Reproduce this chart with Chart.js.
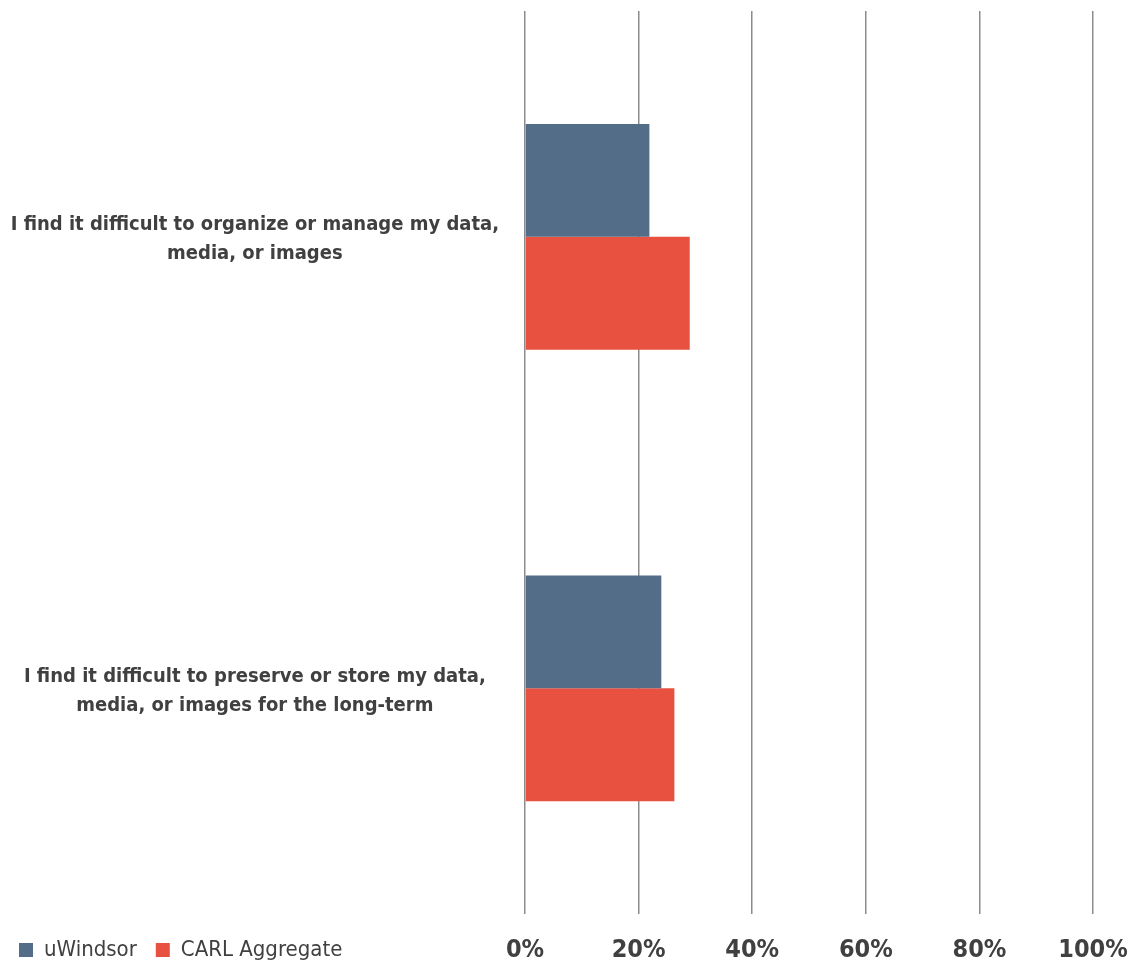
<!DOCTYPE html>
<html>
<head>
<meta charset="utf-8">
<script src="https://cdn.jsdelivr.net/npm/chart.js@4"></script>
<style>
  html, body { margin: 0; padding: 0; background: #fff; }
  #wrap { width: 1132px; height: 969px; position: relative; }
</style>
</head>
<body>
<div id="wrap"><canvas id="chart"></canvas></div>
<script>
// ==== data ====
const categories = [
  ["I find it difficult to organize or manage my data,", "media, or images"],
  ["I find it difficult to preserve or store my data,", "media, or images for the long-term"]
];
const seriesNames = ["uWindsor", "CARL Aggregate"];
const uWindsor = [21.9, 24.0];
const carlAggregate = [29.0, 26.3];
const tickValues = [0, 20, 40, 60, 80, 100];

const narrow = "'Liberation Sans Narrow', 'Arial Narrow', 'DejaVu Sans Condensed', 'Liberation Sans', sans-serif";
const textColor = '#404040';

// legend sits on the same row as the x tick labels
const legendRow = {
  id: 'legendRow',
  afterLayout(chart) {
    const lg = chart.legend;
    const shift = lg.top - chart.scales.x.top - 6;
    lg.top -= shift;
    lg.bottom -= shift;
  }
};

const ctx = document.getElementById('chart').getContext('2d');
const chart = new Chart(ctx, {
  type: 'bar',
  data: {
    labels: categories,
    datasets: [
      { label: seriesNames[0], data: uWindsor, backgroundColor: '#536d89', borderWidth: 0 },
      { label: seriesNames[1], data: carlAggregate, backgroundColor: '#e85040', borderWidth: 0 }
    ]
  },
  plugins: [legendRow],
  options: {
    indexAxis: 'y',
    responsive: true,
    maintainAspectRatio: false,
    animation: false,
    barPercentage: 1,
    categoryPercentage: 0.5,
    layout: { padding: { top: 11, left: 0, right: 39, bottom: -50 } },
    plugins: {
      tooltip: { enabled: false },
      legend: {
        position: 'bottom',
        align: 'start',
        labels: {
          boxWidth: 14,
          boxHeight: 14,
          padding: 19,
          color: textColor,
          font: { family: narrow, size: 22 }
        }
      }
    },
    scales: {
      x: {
        min: 0,
        max: 100,
        afterBuildTicks: (axis) => { axis.ticks = tickValues.map(v => ({ value: v })); },
        afterFit: (axis) => { axis.height = 54; axis.paddingLeft = 0; axis.paddingRight = 0; },
        grid: { color: '#8c8c8c', lineWidth: 1.5, drawTicks: false },
        border: { display: false },
        ticks: {
          padding: 21,
          color: textColor,
          font: { family: narrow, size: 25, weight: 'bold' },
          callback: (v) => v + '%'
        }
      },
      y: {
        afterFit: (axis) => { axis.width = 525; axis.paddingTop = 0; axis.paddingBottom = 0; },
        grid: { display: false, drawTicks: false },
        border: { display: false },
        ticks: {
          crossAlign: 'center',
          padding: 26,
          labelOffset: 3,
          color: textColor,
          font: { family: narrow, size: 20, weight: 'bold', lineHeight: 1.45 }
        }
      }
    }
  }
});
</script>
</body>
</html>
